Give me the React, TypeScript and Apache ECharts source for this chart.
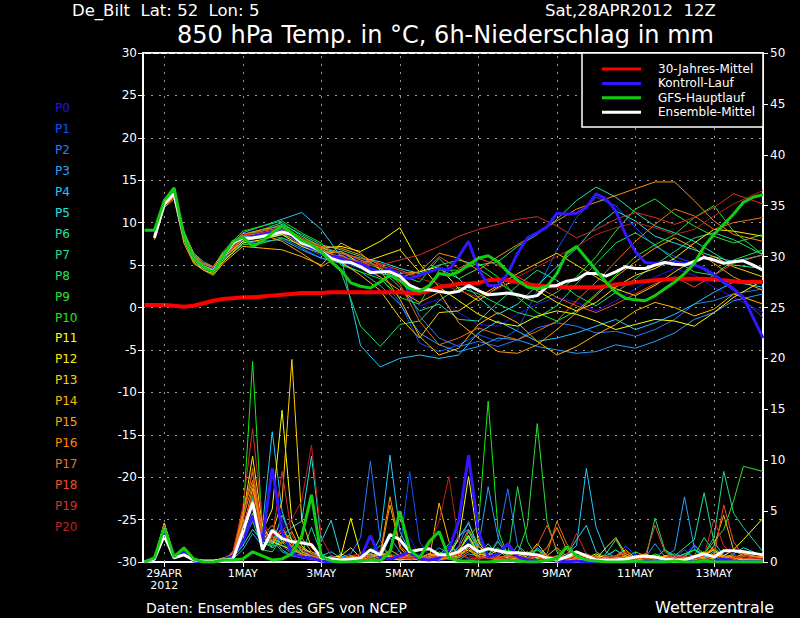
import { useEffect, useRef } from "react";
import * as echarts from "echarts";

// ---------- time grids (hours after Sat 28APR2012 12Z) ----------
const HOURS_6H = Array.from({ length: 64 }, (_, i) => i * 6); // 0..378
const TEMP_HOURS = [6, 12, 18, 24, 30, 36, 42, 48, 60, 72, 84, 96, 108, 120, 132, 144, 156, 168, 180,
  192, 204, 216, 228, 240, 252, 264, 276, 288, 300, 312, 324, 336, 348, 360, 378];
const PRECIP_HOURS = [...HOURS_6H.slice(0, 62), 378];
const TICK_HOURS = [12, 60, 108, 156, 204, 252, 300, 348];
const TICK_LABELS = ["29APR\n2012", "1MAY", "3MAY", "5MAY", "7MAY", "9MAY", "11MAY", "13MAY"];

// ---------- ensemble members ----------
const MEMBER_NAMES = ["P0", "P1", "P2", "P3", "P4", "P5", "P6", "P7", "P8", "P9", "P10",
  "P11", "P12", "P13", "P14", "P15", "P16", "P17", "P18", "P19", "P20"];
const MEMBER_COLORS = ["#2a10f0", "#1050ff", "#2878ff", "#2aa0ff", "#20c8ff", "#20e0e0", "#20e0a0",
  "#20d890", "#20e060", "#30e030", "#10f010", "#ffff00", "#ffe800", "#ffd000", "#ffb800", "#ffa000",
  "#ff8c00", "#f07010", "#e85028", "#d83028", "#c02020"];

// 850 hPa temperature of each member (°C), on TEMP_HOURS
const TEMP_MEMBERS: number[][] = [
  [8.6,12.6,13.4,8.8,6.2,5.2,4.8,6.4, 8.4,8.8,9.4,7.6,6.8, 6.2,5.6,4.8,3.4,0.2,1.0, -0.6,-2.0,-2.2,-0.8,0.4,1.2,0.6,-0.4,0.8,2.2,3.6,4.6,3.8,2.4,1.2,-0.6],
  [8.4,12.2,13.2,8.4,5.8,4.8,4.4,5.6, 7.8,8.2,8.6,7.2,6.2, 5.4,4.6,3.6,0.6,-4.2,-5.2, -4.4,-3.2,-4.0,-2.6,2.0,6.8,10.6,13.0,12.0,9.4,7.2,6.0,5.2,3.6,2.0,-1.2],
  [8.8,12.6,13.6,8.6,6.0,5.0,4.4,5.8, 8.0,8.6,8.2,7.0,5.8, 5.8,5.0,4.2,3.8,-1.0,-3.6, -4.6,-4.0,-4.6,-3.8,-2.4,-1.8,-2.2,-3.0,-2.8,-3.4,-2.6,-1.4,0.4,0.8,1.6,2.2],
  [8.4,12.4,13.2,8.2,5.6,4.6,4.2,5.4, 7.6,7.8,8.0,6.8,5.8, 5.2,4.2,2.6,0.4,-3.0,-4.4, -5.2,-4.6,-3.6,-3.8,-4.6,-5.0,-5.4,-5.2,-4.4,-4.8,-4.0,-3.0,-1.4,-0.6,0.8,1.6],
  [8.6,12.8,13.6,8.8,6.2,5.2,4.6,6.2, 8.8,9.6,10.4,11.2,9.2, 6.0,-4.5,-7.0,-6.0,-5.6,-6.0, -5.6,-3.0,-1.6,-2.8,-4.0,-3.6,-3.0,-2.2,-1.4,-2.6,-1.8,-0.8,0.4,1.8,3.0,2.4],
  [8.8,12.6,13.4,8.6,6.0,5.0,4.6,6.0, 8.2,8.4,9.0,8.0,7.0, 6.4,5.8,5.4,4.6,4.0,4.6, 3.4,1.2,-0.8,0.4,2.6,4.8,7.0,9.6,11.4,10.2,8.4,7.6,6.8,6.0,5.4,6.2],
  [8.6,12.4,13.2,8.4,5.8,4.8,4.4,5.8, 8.6,9.2,10.0,8.4,7.2, 5.6,4.8,4.0,3.6,4.2,5.0, 5.6,5.0,5.4,7.2,8.6,10.4,12.6,14.2,13.0,11.2,9.6,8.8,7.8,6.4,5.0,4.6],
  [8.6,12.4,13.6,8.8,6.4,5.4,4.8,6.4, 8.6,9.0,9.8,8.6,7.4, 6.8,6.0,4.6,2.4,-0.4,0.4, -1.4,-1.6,0.6,2.6,4.4,3.2,1.4,0.2,1.8,3.4,5.0,6.6,8.2,8.8,8.0,6.2],
  [8.4,12.2,13.2,8.2,5.6,4.6,4.2,5.6, 7.4,7.6,8.2,7.4,6.4, 4.2,-2.2,-4.6,-2.0,-1.6,0.8, 2.4,1.6,0.4,-0.6,-1.2,0.2,2.8,5.2,7.6,8.8,7.4,5.6,4.2,3.8,5.6,6.8],
  [8.6,12.6,13.4,8.6,6.0,5.0,4.6,6.0, 8.0,8.2,8.6,7.8,6.6, 6.0,5.4,4.6,3.8,3.0,5.8, 3.4,4.6,3.0,1.4,0.6,1.8,3.6,6.0,9.0,11.6,12.8,11.0,9.6,8.4,7.6,8.6],
  [8.8,12.8,13.8,9.0,6.4,5.2,4.8,6.6, 9.0,9.6,10.2,8.8,7.6, 5.0,4.2,3.4,1.2,0.4,4.4, 4.4,5.2,3.6,1.2,-0.6,-1.6,-0.4,1.6,3.8,6.0,7.4,8.6,10.6,12.0,9.0,6.2],
  [8.4,12.2,13.0,8.2,5.6,4.6,4.4,5.8, 7.8,8.4,9.0,7.8,7.0, 7.2,6.6,7.8,9.4,5.2,2.4, 0.8,-0.8,-1.8,-2.2,-1.0,-0.4,-0.8,-1.6,-2.6,-2.0,-1.4,-1.6,-2.2,-0.6,1.2,3.2],
  [8.2,12.0,13.0,8.0,5.4,4.4,4.0,5.4, 7.6,8.0,8.6,7.2,6.4, 6.6,5.2,6.0,6.8,4.2,4.8, 2.2,0.8,2.4,3.2,2.0,0.6,-0.4,0.6,2.4,3.8,4.6,5.8,7.6,9.2,9.0,8.4],
  [8.6,12.4,13.2,8.6,6.0,5.0,4.6,6.2, 8.4,8.8,9.2,8.0,7.0, 5.4,3.8,2.0,-1.2,-3.6,-0.6, -0.4,1.2,2.6,4.0,5.2,6.4,5.0,3.6,2.2,1.4,2.6,4.2,5.6,6.0,4.8,3.6],
  [8.0,11.8,12.8,7.6,5.2,4.4,3.8,5.2, 7.2,7.0,6.8,6.0,5.0, 7.6,6.4,4.4,1.0,-3.4,-5.6, -4.8,-2.0,-0.6,-1.8,-4.0,-5.6,-4.6,-3.2,-2.0,-0.4,0.6,0.0,-1.0,-0.2,1.6,0.4],
  [8.4,12.4,13.4,8.4,5.8,4.8,4.4,5.8, 8.2,8.6,7.8,6.4,4.8, 6.2,5.0,3.6,2.0,0.6,1.8, -1.8,-3.6,-5.2,-5.4,-4.4,-2.6,-0.6,1.4,3.6,5.4,7.0,8.2,7.0,5.2,3.6,2.0],
  [8.6,12.4,13.4,8.8,6.2,5.2,4.8,6.4, 8.6,9.2,9.6,8.2,7.2, 7.0,6.2,5.0,4.0,4.2,6.4, 5.8,4.4,6.0,7.4,8.8,10.2,11.6,12.4,13.2,14.0,14.8,14.8,12.6,10.2,8.6,7.8],
  [8.2,12.0,13.0,8.4,6.0,5.0,4.6,6.0, 8.0,8.6,8.8,7.4,6.6, 6.6,5.6,4.8,2.8,-1.6,-4.4, -3.6,-2.4,-3.2,-3.8,-2.8,-1.6,0.8,3.0,5.4,7.8,9.8,11.6,10.8,9.2,10.0,10.6],
  [8.6,12.6,13.6,8.8,6.2,5.2,4.8,6.2, 8.4,9.0,9.4,8.0,7.2, 6.4,5.8,5.2,4.4,3.6,6.0, 4.6,5.8,5.0,3.6,2.4,1.2,0.2,-0.6,0.4,1.6,2.8,3.6,2.4,3.8,5.2,6.2],
  [8.4,12.2,13.2,8.4,5.8,4.8,4.4,5.8, 8.2,8.6,9.0,8.2,7.0, 5.8,5.4,5.0,5.6,6.2,7.2, 8.4,9.2,9.8,10.4,10.7,9.6,8.2,9.2,10.4,11.2,10.6,9.8,10.6,11.8,13.4,12.2],
  [8.6,12.4,13.4,8.6,6.0,5.0,4.6,6.0, 8.6,8.8,9.2,7.6,6.4, 6.0,5.2,4.8,4.2,3.4,2.8, 2.0,1.2,2.2,3.6,4.8,6.0,7.2,8.6,9.4,10.0,9.4,8.6,9.2,10.8,12.2,13.8],
];

// 6h precipitation of each member (mm), on PRECIP_HOURS
const PRECIP_MEMBERS: number[][] = [
  [0,0.2,3.0,0.6,0.8,0.1,0,0,0.2, 0.5,2.4,5.2,3.0,1.6,4.2,1.0,0.4,0.2, 0.1,0,0.2,0.1,0,0.4,1.2,0.3,0.8, 2.4,0.6,0.2,0.1,0.3,0.8,2.2,0.6,0.3, 0.2,0.1,0,0.3,1.4,0.6,0.2,0,0.1, 0.4,0.2,0,0,0.3,0.8,0.2,0.1,0, 0.2,0.6,1.8,0.4,0.1,0.3,2.0,0.6,0.2],
  [0,0.3,3.2,0.5,1.0,0.1,0,0.1,0.3, 0.8,3.6,6.4,2.2,1.8,2.6,1.4,0.6,0.3, 0.1,0.2,0,0.1,0.3,0.2,0.5,0.2,1.2, 8.9,2.0,0.6,0.4,1.6,0.8,0.3,0.2,0.6, 0.4,0.1,0,0.2,0.5,0.2,0.1,0.6,1.0, 0.3,0,0.2,0.4,1.6,0.6,0.1,0,0.2, 0.4,1.2,0.5,0.2,0,0.3,0.8,0.2,0.5],
  [0,0.3,3.6,0.4,0.9,0.2,0,0,0.2, 0.4,1.8,4.4,2.6,3.2,1.6,0.8,1.2,0.6, 0.3,0.1,0.4,0.8,2.4,9.9,2.2,0.4,0.6, 0.2,0.3,0.8,0.2,0.4,1.6,4.0,1.0,0.6, 2.2,7.2,1.6,0.4,0.2,0.1,0.3,0.6,0.2, 0.2,0.1,0.4,1.2,0.6,0.2,0,0.1,0.3, 0.2,0,0.2,0.5,0.3,0.8,0.4,0.1,0.2],
  [0,0.4,3.8,0.6,1.2,0.2,0,0.1,0.2, 0.3,1.2,2.8,1.6,2.2,1.0,0.6,0.4,0.3, 0.2,0.6,0.4,0.2,0.1,0.6,0.4,2.4,1.0, 0.4,0.2,0.6,1.4,0.8,2.6,3.2,1.4,7.4, 2.4,0.6,0.2,0.4,1.2,0.6,0.4,0.2,0.1, 0.1,0.2,0.6,0.3,0.1,0.2,0.4,1.8,0.5, 1.2,6.4,1.4,0.2,0.1,0.4,0.2,0.6,0.3],
  [0,0.3,3.4,0.5,1.0,0.1,0,0,0.2, 0.6,2.8,6.2,3.4,12.8,5.0,2.0,1.2,1.0, 0.6,1.0,0.4,0.2,0.4,0.6,2.4,10.5,3.0, 1.0,0.4,0.2,0.6,0.4,0.2,0.8,0.6,0.4, 0.2,0.6,0.4,0.3,1.4,0.6,0.3,0.8,1.6, 9.2,3.4,1.0,0.4,0.2,0.1,0.3,0.2,0.4, 0.3,0.6,0.2,0.4,1.0,0.4,0.2,0.6,0.3],
  [0,0.3,3.0,0.4,0.8,0.1,0,0.1,0.3, 0.4,1.6,3.2,2.0,1.4,2.6,3.4,4.0,10.4, 2.0,4.1,0.6,0.2,0.1,0.3,0.6,0.4,0.2, 0.3,0.6,0.4,0.2,0.4,2.4,3.8,1.6,0.8, 0.4,0.2,0.6,0.8,0.4,0.2,0.1,0.6,2.2, 3.6,1.0,0.4,0.2,0.1,0.3,0.5,0.2,0.1, 0.4,0.8,1.2,0.6,0.2,0.4,0.8,1.4,0.6],
  [0,0.4,3.6,0.6,1.2,0.2,0,0,0.2, 0.6,3.2,5.6,2.4,1.8,4.6,2.2,1.0,0.6, 0.3,0.2,0.8,0.4,0.2,0.6,1.0,0.4,0.3, 0.8,0.4,0.3,0.6,1.8,0.8,3.0,1.2,0.6, 2.0,0.6,0.4,0.2,0.1,0.4,0.2,0.6,0.4, 0.2,0.1,0.8,2.2,0.6,0.3,0.2,0.4,1.2, 0.6,1.4,2.2,6.8,2.0,0.6,0.4,0.8,0.4],
  [0,0.3,3.2,0.5,0.9,0.1,0,0.1,0.2, 0.3,2.0,4.0,1.4,2.6,1.2,0.6,0.8,3.4, 0.8,0.2,0.1,0.4,0.2,0.6,0.8,0.3,0.6, 0.4,0.2,0.6,0.3,0.6,1.2,2.4,0.6,1.8, 0.6,0.4,1.6,0.8,0.3,0.2,0.6,0.4,0.2, 0.2,0.6,0.4,0.2,0.1,0.3,0.4,0.2,0.6, 0.8,0.4,1.6,0.8,2.4,8.9,4.8,3.4,1.0],
  [0,0.3,3.4,0.4,1.0,0.2,0,0,0.3, 0.4,2.2,4.8,1.2,1.0,2.4,1.6,0.6,0.4, 0.2,0.6,0.4,0.3,0.2,0.8,1.6,0.6,0.4, 0.6,0.3,0.2,0.4,0.6,1.0,2.6,1.0,0.8, 1.4,0.6,7.4,2.0,0.4,0.2,0.3,0.6,0.4, 0.2,0.3,0.6,1.2,0.4,0.2,0.1,4.3,1.2, 0.4,0.8,0.6,2.4,1.0,0.6,0.4,0.2,0.6],
  [0,0.4,3.8,0.7,1.2,0.2,0,0.1,0.2, 0.5,2.6,4.2,2.0,1.6,3.4,1.8,0.8,0.5, 0.2,0.1,0.3,0.6,0.3,0.2,0.6,0.4,0.2, 0.3,0.6,0.4,1.0,0.6,0.4,1.6,2.2,0.8, 0.6,1.2,0.8,3.6,13.6,4.0,1.0,0.4,0.2, 0.3,0.6,0.2,0.1,0.4,1.0,0.6,0.3,0.2, 0.4,0.6,1.2,0.8,2.0,3.2,6.0,9.4,8.9],
  [0,0.3,3.6,0.5,1.0,0.1,0,0,0.3, 0.8,4.0,19.7,3.0,1.4,2.0,0.8,0.6,0.3, 0.2,0.1,0.4,0.2,0.1,0.3,0.8,0.4,0.3, 0.6,0.2,0.4,0.3,0.6,1.2,2.4,3.6,15.8, 3.2,0.6,0.4,0.8,1.2,0.4,0.2,0.3,0.6, 0.3,0.2,0.4,0.6,0.2,0.1,0.3,0.8,0.4, 0.2,0.4,0.6,0.3,0.8,0.4,0.2,0.6,0.3],
  [0,0.4,3.2,0.6,1.0,0.2,0,0.1,0.4, 0.6,2.4,6.0,3.0,5.2,14.9,4.0,1.6,0.8, 0.4,0.3,0.6,4.3,0.8,0.3,0.6,0.4,0.2, 0.4,0.2,0.3,0.6,0.8,2.2,8.4,2.0,0.6, 0.4,0.2,0.6,1.0,0.4,0.2,0.3,0.6,0.2, 0.4,0.8,0.3,0.2,0.6,0.3,0.1,0.2,0.6, 0.3,0.2,0.6,1.0,0.4,0.6,1.2,2.2,4.3],
  [0,0.3,3.0,0.5,0.8,0.1,0,0,0.2, 1.0,4.4,10.4,3.6,2.0,1.6,1.2,0.8,0.4, 0.2,0.4,0.6,1.4,0.4,0.2,0.3,0.6,0.4, 0.3,0.4,0.8,0.6,0.4,1.0,2.6,0.8,0.6, 1.2,0.4,0.2,0.6,1.8,0.6,0.3,0.2,0.4, 0.6,0.3,1.4,2.4,0.8,0.4,0.2,0.3,0.6, 0.2,0.4,0.3,0.6,1.2,0.6,0.4,0.2,0.6],
  [0,0.4,3.8,0.6,1.1,0.2,0,0.1,0.3, 0.8,3.0,7.2,2.4,2.8,6.0,19.9,4.2,1.4, 0.6,0.2,0.3,0.6,0.2,0.4,0.8,0.6,0.3, 0.4,0.3,0.6,0.8,0.4,0.6,1.4,0.6,0.4, 0.3,0.6,1.0,0.4,0.2,0.6,1.4,0.6,0.3, 0.2,0.4,0.6,0.3,0.2,0.1,0.4,0.6,0.3, 0.6,0.4,0.2,0.8,1.2,0.4,0.6,0.3,0.2],
  [0,0.3,3.4,0.5,0.9,0.2,0,0,0.2, 0.6,3.4,6.6,2.8,1.8,3.0,2.2,1.4,0.8, 0.4,0.2,0.4,0.3,0.6,0.8,0.4,1.2,0.6, 0.4,0.6,0.3,5.8,2.0,0.6,1.2,0.4,0.8, 0.6,0.3,0.2,0.4,0.6,0.3,0.2,0.4,0.6, 0.8,0.4,0.2,0.6,1.2,0.4,0.3,0.2,0.6, 0.4,0.3,0.6,0.4,1.6,4.6,1.2,0.6,0.4],
  [0,0.4,3.6,0.6,1.0,0.2,0,0.1,0.3, 0.9,5.0,8.0,3.0,2.4,1.8,3.0,1.0,0.6, 0.3,0.4,0.2,0.6,0.4,0.3,0.6,5.6,1.4, 0.4,0.2,0.6,0.4,0.3,0.8,1.2,0.6,0.4, 0.6,0.4,0.3,0.8,0.4,0.2,0.6,0.4,0.2, 0.4,0.6,0.2,0.4,0.3,0.6,0.8,0.4,0.2, 0.3,0.6,0.4,0.2,0.4,0.6,0.3,0.8,0.4],
  [0,0.3,3.2,0.5,1.0,0.1,0,0,0.2, 0.6,4.2,7.6,2.6,3.6,2.0,1.6,2.4,1.0, 0.4,0.2,0.3,0.6,0.4,0.2,0.8,6.4,1.6, 0.6,0.4,0.8,0.6,0.3,0.4,1.0,1.6,0.6, 0.4,0.6,0.3,0.2,0.6,1.4,3.4,1.2,0.4, 0.6,0.3,0.2,0.4,0.6,0.3,0.4,0.2,0.6, 0.4,0.2,0.6,0.3,0.8,0.4,0.6,0.3,0.2],
  [0,0.4,3.4,0.6,1.0,0.2,0,0.1,0.3, 0.8,4.8,8.8,2.4,2.0,3.4,1.4,0.8,0.6, 0.3,0.2,0.4,0.3,0.2,0.6,1.0,0.6,0.4, 0.3,0.6,0.4,0.2,0.6,1.4,3.2,1.6,0.6, 0.4,0.6,0.8,0.4,0.6,0.8,4.0,1.8,0.6, 0.3,0.2,0.4,0.6,0.8,0.4,0.2,0.6,0.3, 0.6,0.4,0.2,0.8,1.4,0.6,0.4,0.3,0.6],
  [0,0.3,3.0,0.5,0.8,0.1,0,0,0.2, 0.6,3.8,9.2,3.0,2.2,2.6,1.8,0.6,0.4, 0.2,0.4,0.3,0.6,0.8,0.4,0.6,0.8,0.4, 0.6,0.3,0.4,0.6,0.4,0.8,1.6,0.6,0.4, 0.3,0.6,0.4,0.8,1.6,3.6,1.2,0.4,0.3, 0.6,0.4,0.2,0.6,1.0,0.4,0.6,3.6,1.0, 0.4,0.6,0.3,0.8,0.6,5.6,2.0,0.6,0.3],
  [0,0.4,3.6,0.5,1.0,0.2,0,0.1,0.2, 1.0,5.4,13.1,4.0,2.4,8.9,2.6,1.2,0.8, 0.4,0.2,0.3,0.4,0.6,0.3,0.2,0.4,0.6, 0.4,0.3,0.6,0.4,0.6,0.8,0.4,0.3,0.6, 0.4,0.3,0.6,0.4,0.2,0.6,0.4,0.6,2.8, 0.8,0.4,0.3,0.6,0.4,0.2,0.6,0.3,0.4, 0.6,0.3,0.4,0.6,4.2,1.6,0.6,0.4,0.3],
  [0,0.3,3.4,0.6,1.0,0.1,0,0,0.2, 0.6,3.2,6.8,2.2,2.6,3.0,4.2,6.0,11.5, 2.4,0.6,0.3,0.4,0.2,0.3,0.6,0.4,0.3, 0.4,0.6,1.6,4.0,8.4,2.0,0.6,0.4,0.3, 0.6,0.3,0.2,0.4,0.6,0.3,0.4,0.2,0.6, 0.4,0.2,0.6,0.3,0.4,0.6,0.3,0.2,0.4, 0.3,0.6,0.4,0.2,0.6,0.3,0.4,0.6,0.3],
];

// ---------- highlighted runs (temperature on 6h grid) ----------
const CLIMATE_TEMP = [0.3,0.3,0.3,0.2,0.1,0.2,0.5,0.8,1.0,1.1, 1.2,1.2,1.3,1.4,1.5,1.6,1.7,1.7,1.7,1.8,
  1.8,1.8,1.8,1.8,1.8,1.8,1.8,1.7,1.7,2.0, 2.4,2.6,2.8,2.8,2.9,3.2,3.3,3.2,3.0,2.7,
  2.6,2.5,2.5,2.4,2.4,2.4,2.4,2.5,2.7,2.8, 3.0,3.1,3.2,3.3,3.4,3.4,3.4,3.4,3.3,3.2, 3.1,3.0,3.0,3.0]; // 0..378
const MAIN_TEMP = [9.1,9.1,12.6,14.1,8.4,5.8,4.8,4.2,6.0,7.8, 8.3,7.2,7.8,8.8,9.6,8.8,7.9,7.4,6.6,5.4,
  4.4,2.9,2.5,2.3,3.0,3.8,3.2,2.2,1.9,2.6, 4.0,3.8,4.2,5.0,5.8,6.1,5.4,4.2,3.2,2.4,
  2.2,2.5,4.0,6.4,7.2,5.8,4.4,3.0,1.8,1.1, 0.9,0.8,1.4,2.2,3.0,4.0,5.2,7.2,8.6,9.8, 11.0,12.4,13.0,13.3]; // 0..378
const CONTROL_TEMP = [8.4,12.4,13.4,8.4,5.8,4.8,4.4,6.0,7.6,8.2, 8.4,8.6,8.8,9.0,8.4,7.6,7.0,6.6,6.0,5.8,
  5.4,5.2,4.6,4.2,4.6,3.8,3.4,3.8,4.2,4.6, 4.4,6.0,7.8,4.6,2.6,2.6,4.0,6.4,8.2,8.8,
  9.5,11.1,11.0,11.1,11.8,13.4,12.8,11.4,8.6,6.6, 5.3,5.2,5.3,5.4,5.2,5.0,4.6,3.9,3.0,2.2, 1.2,-1.2,-3.6]; // 6..378
const MEAN_TEMP = [8.2,12.2,13.4,8.4,5.8,4.8,4.3,6.0,7.6,8.2, 8.2,8.4,8.6,8.9,8.6,7.6,7.2,6.6,5.8,5.4,
  5.3,4.8,4.1,4.2,4.2,3.7,2.6,2.1,2.1,1.9, 1.7,1.9,2.6,2.0,1.5,1.6,1.7,1.5,1.2,1.4,
  2.5,2.6,3.1,3.3,4.0,4.0,3.7,4.2,4.8,4.6, 4.6,5.0,5.3,5.1,5.0,5.4,5.9,5.6,5.2,5.4, 5.5,5.0,4.4]; // 6..378

// ---------- highlighted runs (precipitation, PRECIP_HOURS) ----------
const MAIN_PRECIP = [0,0.4,3.4,0.5,1.4,0.3,0,0,0.2,0.2, 0.3,1.0,0.6,0.2,0.3,0.8,2.5,6.6,0.5,0.1,
  0,0,0.1,0.2,0.1,1.0,5.0,1.2,0.4,2.0, 3.0,0.4,0.1,0.1,0,0,0.1,0.2,0.1,0,
  0,0.2,0.3,1.5,0.6,0.2,0.1,0,0,0, 0.1,0,0,0,0.1,0,0,0.1,0,0, 0,0,0];
const CONTROL_PRECIP = [0,0.3,3.2,0.4,1.0,0.1,0,0,0.2,0.6, 2.0,4.5,2.0,9.2,3.0,0.8,0.5,0.4,0.1,0,
  0,0.1,0.4,2.6,0.4,0.3,0.6,1.0,0.3,0.2, 0.4,1.2,4.0,10.5,3.0,0.5,0.8,1.8,0.5,0.2,
  0.1,0.2,0.1,0,0.1,0,0,0.2,0.1,0, 0,0.1,0,0,0.2,0.1,0,0,0.1,0.3, 0.1,0,0];
const MEAN_PRECIP = [0,0.3,2.6,0.4,0.7,0.2,0.1,0.1,0.2,0.3, 3.0,5.8,1.2,3.1,2.3,2.0,1.9,1.7,0.4,0.3,
  0.2,0.3,0.4,1.2,0.7,2.7,2.2,1.0,1.2,1.3, 0.7,0.7,1.0,1.7,1.0,1.3,1.1,0.9,0.9,0.8,
  0.7,0.4,0.2,0.5,1.0,0.6,0.2,0.2,0.2,0.3, 0.5,0.6,0.5,0.3,0.2,0.2,0.5,0.8,0.5,1.1, 1.1,1.0,0.7];

const LEGEND_ITEMS = ["30-Jahres-Mittel", "Kontroll-Lauf", "GFS-Hauptlauf", "Ensemble-Mittel"];
const LEGEND_COLORS = ["#ff0000", "#3318ff", "#11cc11", "#ffffff"];

const FONT = "DejaVu Sans";

function zip(hours: number[], values: number[]) {
  return values.map((v, i) => [hours[i], v]);
}

function line(name: string, data: number[][], color: string, width: number, axis: number, z = 2) {
  return {
    type: "line",
    name,
    data,
    yAxisIndex: axis,
    showSymbol: false,
    symbol: "none",
    z,
    lineStyle: { color, width },
    itemStyle: { color },
  };
}

export default function App() {
  const ref = useRef<HTMLDivElement>(null);

  useEffect(() => {
    if (!ref.current) return;
    const chart = echarts.init(ref.current, null, { renderer: "svg" });

    const series: any[] = [];
    // vertical dotted grid lines through the date ticks
    series.push({
      type: "line",
      data: [],
      z: 1,
      markLine: {
        silent: true,
        symbol: "none",
        label: { show: false },
        lineStyle: { color: "#9a9a9a", type: [2, 6], width: 1 },
        data: TICK_HOURS.map((h) => ({ xAxis: h })),
      },
    });
    PRECIP_MEMBERS.forEach((vals, i) => {
      series.push(line(MEMBER_NAMES[i] + " RR", zip(PRECIP_HOURS, vals), MEMBER_COLORS[i], 1, 1));
    });
    TEMP_MEMBERS.forEach((vals, i) => {
      series.push(line(MEMBER_NAMES[i], zip(TEMP_HOURS, vals), MEMBER_COLORS[i], 1, 0));
    });
    series.push(line("30-Jahres-Mittel", zip(HOURS_6H, CLIMATE_TEMP), LEGEND_COLORS[0], 4, 0, 3));
    series.push(line("Kontroll-Lauf RR", zip(PRECIP_HOURS, CONTROL_PRECIP), LEGEND_COLORS[1], 3, 1, 3));
    series.push(line("Kontroll-Lauf", zip(HOURS_6H.slice(1), CONTROL_TEMP), LEGEND_COLORS[1], 3, 0, 3));
    series.push(line("Ensemble-Mittel RR", zip(PRECIP_HOURS, MEAN_PRECIP), LEGEND_COLORS[3], 3, 1, 3));
    series.push(line("Ensemble-Mittel", zip(HOURS_6H.slice(1), MEAN_TEMP), LEGEND_COLORS[3], 3, 0, 3));
    series.push(line("GFS-Hauptlauf RR", zip(PRECIP_HOURS, MAIN_PRECIP), LEGEND_COLORS[2], 3, 1, 3));
    series.push(line("GFS-Hauptlauf", zip(HOURS_6H, MAIN_TEMP), LEGEND_COLORS[2], 3, 0, 3));

    const graphics: any[] = [
      { type: "text", x: 72, y: 10, z: 100, style: { text: "De_Bilt  Lat: 52  Lon: 5", fill: "#fff", fontSize: 16.5, fontFamily: FONT, verticalAlign: "middle" } },
      { type: "text", x: 545, y: 10, z: 100, style: { text: "Sat,28APR2012  12Z", fill: "#fff", fontSize: 16.5, fontFamily: FONT, verticalAlign: "middle" } },
      { type: "text", x: 177, y: 35, z: 100, style: { text: "850 hPa Temp. in °C, 6h-Niederschlag in mm", fill: "#fff", fontSize: 24, fontFamily: FONT, verticalAlign: "middle" } },
      { type: "text", x: 146, y: 608, z: 100, style: { text: "Daten: Ensembles des GFS von NCEP", fill: "#fff", fontSize: 14, fontFamily: FONT, verticalAlign: "middle" } },
      { type: "text", x: 655, y: 607, z: 100, style: { text: "Wetterzentrale", fill: "#fff", fontSize: 16, fontFamily: FONT, verticalAlign: "middle" } },
      { type: "rect", z: 100, shape: { x: 582, y: 53, width: 181, height: 74 }, style: { fill: "#000", stroke: "#fff", lineWidth: 1.5 } },
    ];
    LEGEND_ITEMS.forEach((t, i) => {
      const y = 69 + i * 14.4;
      graphics.push({ type: "line", z: 101, shape: { x1: 602, y1: y, x2: 641, y2: y }, style: { stroke: LEGEND_COLORS[i], lineWidth: 3 } });
      graphics.push({ type: "text", z: 101, x: 658, y, style: { text: t, fill: "#fff", fontSize: 12, fontFamily: FONT, verticalAlign: "middle" } });
    });
    MEMBER_NAMES.forEach((n, i) => {
      graphics.push({ type: "text", z: 100, x: 55, y: 108 + i * 20.95, style: { text: n, fill: MEMBER_COLORS[i], fontSize: 12, fontFamily: FONT, verticalAlign: "middle" } });
    });

    chart.setOption({
      animation: false,
      backgroundColor: "#000",
      grid: { left: 143, right: 37, top: 53, bottom: 56, show: true, borderColor: "#fff", borderWidth: 2, backgroundColor: "transparent" },
      xAxis: {
        type: "value",
        min: -1,
        max: 378,
        axisLine: { show: true, onZero: false, lineStyle: { color: "#fff", width: 2 } },
        axisTick: { show: true, inside: false, length: 5, customValues: TICK_HOURS, lineStyle: { color: "#fff" } },
        axisLabel: {
          color: "#fff", fontSize: 11, fontFamily: FONT, margin: 5, lineHeight: 12,
          customValues: TICK_HOURS,
          formatter: (v: number) => {
            const k = TICK_HOURS.indexOf(Math.round(v));
            return k >= 0 ? TICK_LABELS[k] : "";
          },
        },
        splitLine: { show: false },
      },
      yAxis: [
        {
          type: "value", min: -30, max: 30, interval: 5, position: "left",
          axisLine: { show: true, onZero: false, lineStyle: { color: "#fff", width: 2 } },
          axisTick: { show: true, length: 5, lineStyle: { color: "#fff" } },
          axisLabel: { color: "#fff", fontSize: 12, fontFamily: FONT, margin: 6 },
          splitLine: { show: true, lineStyle: { color: "#9a9a9a", type: [2, 6], width: 1 } },
        },
        {
          type: "value", min: 0, max: 50, interval: 5, position: "right",
          axisLine: { show: true, onZero: false, lineStyle: { color: "#fff", width: 2 } },
          axisTick: { show: true, length: 5, lineStyle: { color: "#fff" } },
          axisLabel: { color: "#fff", fontSize: 12, fontFamily: FONT, margin: 7 },
          splitLine: { show: false },
        },
      ],
      graphic: graphics,
      series,
    });

    return () => chart.dispose();
  }, []);

  return (
    <div style={{ position: "absolute", left: 0, top: 0, width: 800, height: 618, background: "#000" }}>
      <div ref={ref} style={{ width: 800, height: 618 }} />
    </div>
  );
}
